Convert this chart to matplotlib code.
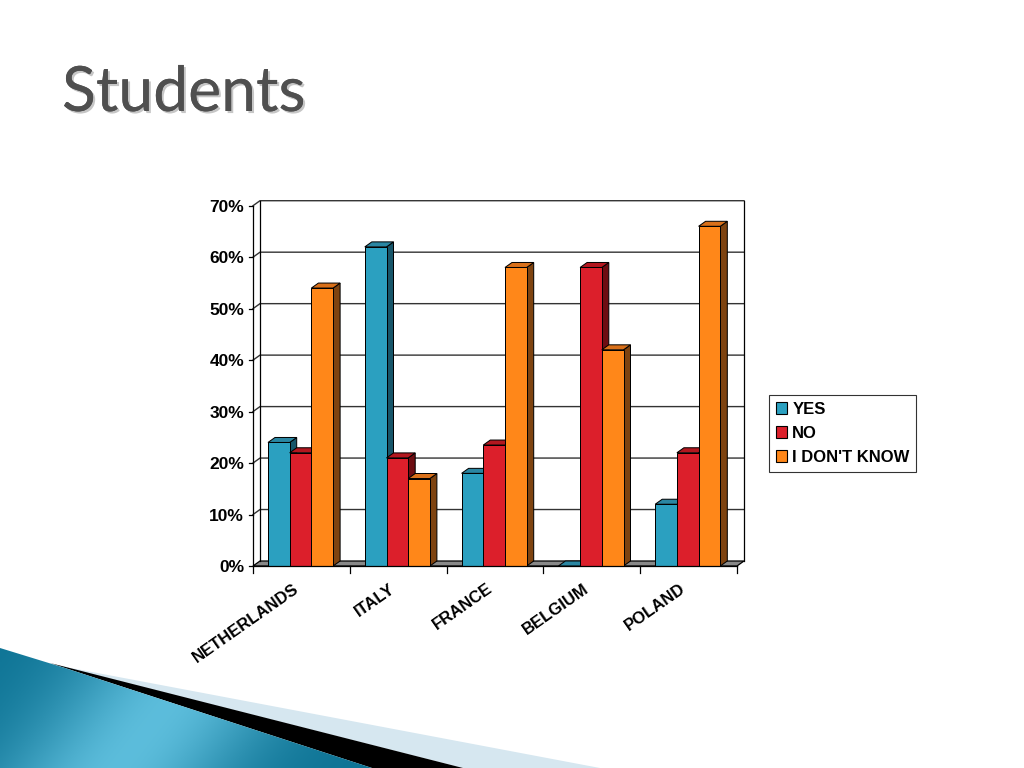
import matplotlib
matplotlib.use("Agg")
import matplotlib.pyplot as plt
import matplotlib.patheffects as pe
from matplotlib.patches import Polygon, Rectangle, Patch
import numpy as np

# ---------------- data ----------------
categories = ["NETHERLANDS", "ITALY", "FRANCE", "BELGIUM", "POLAND"]
series_names = ["YES", "NO", "I DON'T KNOW"]
yes_vals = [24, 62, 18, 0, 12]
no_vals = [22, 21, 23.5, 58, 22]
idk_vals = [54, 17, 58, 42, 66]
y_ticks = [0, 10, 20, 30, 40, 50, 60, 70]
y_tick_labels = ["0%", "10%", "20%", "30%", "40%", "50%", "60%", "70%"]
title_text = "Students"

# ---------------- styles ----------------
front_cols = ["#2BA0C0", "#DC1F2B", "#FF8719"]
top_cols = ["#2A86A2", "#B3171F", "#D9701A"]
side_cols = ["#17566A", "#6E0D12", "#7E4310"]

W, H = 1024, 768
fig = plt.figure(figsize=(W / 100, H / 100), dpi=100)

# background decoration axes (pixel coords)
bg = fig.add_axes([0, 0, 1, 1], zorder=0)
bg.set_xlim(0, W)
bg.set_ylim(H, 0)
bg.axis("off")

light = Polygon([(55, 665), (600, 768), (463, 768)], closed=True,
                facecolor="#D6E7F0", edgecolor="none")
bg.add_patch(light)
black = Polygon([(50, 663), (463, 768), (372, 768), (65, 668)], closed=True,
                facecolor="black", edgecolor="none")
bg.add_patch(black)
teal = Polygon([(0, 648), (65, 668), (372, 768), (0, 768)], closed=True,
               facecolor="none", edgecolor="none")
bg.add_patch(teal)
# gradient for teal swoosh
gx = np.linspace(0, 1, 256)
gy = np.linspace(0, 1, 64)
GX, GY = np.meshgrid(gx, gy)
t = np.clip(GX * 0.8 + GY * 0.2, 0, 1)
c_dark = np.array([0.05, 0.45, 0.58])
c_light = np.array([0.36, 0.74, 0.86])
w = np.exp(-((t - 0.45) / 0.25) ** 2)
img = c_dark[None, None, :] * (1 - w[..., None]) + c_light[None, None, :] * w[..., None]
im = bg.imshow(img, extent=(0, 380, 768, 645), aspect="auto", zorder=1)
im.set_clip_path(teal)

# title
bg.text(62, 111, title_text, fontsize=45, family="Lato", color="#4F4F4F",
        ha="left", va="baseline",
        path_effects=[pe.withSimplePatchShadow(offset=(1.5, -1.5), shadow_rgbFace="#B8B8B8", alpha=0.8),
                      pe.Normal()])

# ---------------- chart axes ----------------
px_cat = 96.8
px_pct = 5.147
x0_px, y0_px = 253, 566
ax_l, ax_r, ax_t, ax_b = 240, 752, 196, 580
ax = fig.add_axes([ax_l / W, 1 - ax_b / H, (ax_r - ax_l) / W, (ax_b - ax_t) / H], zorder=2)
ax.set_xlim((ax_l - x0_px) / px_cat, (ax_r - x0_px) / px_cat)
ax.set_ylim(-(ax_b - y0_px) / px_pct, (y0_px - ax_t) / px_pct)
ax.axis("off")
ax.patch.set_alpha(0)

n = len(categories)
ymax = y_ticks[-1]
dx = 7 / px_cat
dy = 5 / px_pct
lw = 0.9

# floor
ax.add_patch(Polygon([(0, 0), (n, 0), (n + dx, dy), (dx, dy)], closed=True,
                     facecolor="#888888", edgecolor="black", lw=lw, zorder=1))
# back wall gridlines
for v in y_ticks[1:]:
    ax.plot([0, dx, n + dx], [v, v + dy, v + dy], color="#333333", lw=1.0, zorder=1)
# back wall frame
ax.plot([dx, dx], [dy, ymax + dy], color="black", lw=lw, zorder=1)
ax.plot([n + dx, n + dx], [dy, ymax + dy], color="black", lw=lw, zorder=1)
# front axis
ax.plot([0, 0], [0, ymax], color="black", lw=lw, zorder=1)
ax.plot([0, n], [0, 0], color="black", lw=lw, zorder=6)
# y ticks
tick_len_x = 4 / px_cat
for v, lab in zip(y_ticks, y_tick_labels):
    ax.plot([-tick_len_x, 0], [v, v], color="black", lw=lw, zorder=1)
    ax.text(-9 / px_cat, v - 0.35, lab, ha="right", va="center", fontsize=12.5,
            fontweight="bold", family="Liberation Sans")
# x ticks
for i in range(n + 1):
    ax.plot([i, i], [0, -7 / px_pct], color="black", lw=lw, zorder=1)

# bars
bw = 21.7 / px_cat
off = 15 / px_cat
series = [yes_vals, no_vals, idk_vals]
z = 3
for i in range(n):
    for s, vals in enumerate(series):
        v = vals[i]
        xl = i + off + s * bw
        xr = xl + bw
        # side
        ax.add_patch(Polygon([(xr, 0), (xr + dx, dy), (xr + dx, v + dy), (xr, v)], closed=True,
                             facecolor=side_cols[s], edgecolor="black", lw=lw * 0.8, zorder=z))
        # top
        ax.add_patch(Polygon([(xl, v), (xr, v), (xr + dx, v + dy), (xl + dx, v + dy)], closed=True,
                             facecolor=top_cols[s], edgecolor="black", lw=lw * 0.8, zorder=z))
        # front
        ax.add_patch(Rectangle((xl, 0), bw, v, facecolor=front_cols[s],
                               edgecolor="black", lw=lw * 0.8, zorder=z))
        z += 0.01

# x labels
for i, c in enumerate(categories):
    ax.text(i + 0.41, -2.9, c, rotation=35, rotation_mode="anchor", ha="right", va="top",
            fontsize=12, fontweight="bold", family="Liberation Sans")

# legend
handles = [Patch(facecolor=front_cols[s], edgecolor="black", lw=0.8) for s in range(3)]
leg = fig.legend(handles, series_names, loc="upper left",
                 bbox_to_anchor=(769 / W, 1 - 395 / H), borderaxespad=0,
                 prop={"family": "Liberation Sans", "weight": "bold", "size": 12},
                 frameon=True, fancybox=False, handlelength=0.7, handleheight=0.7,
                 handletextpad=0.3, labelspacing=0.55, borderpad=0.4)
leg.get_frame().set_edgecolor("black")
leg.get_frame().set_linewidth(0.8)

fig.savefig("out.png", dpi=100)
